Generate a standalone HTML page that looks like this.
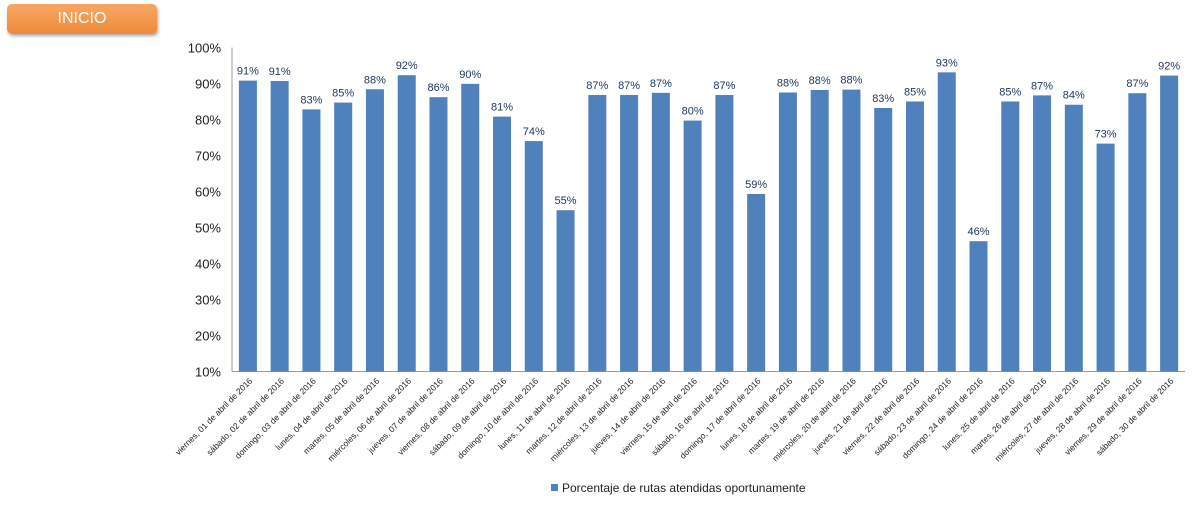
<!DOCTYPE html>
<html><head><meta charset="utf-8"><style>
body{margin:0;background:#fff;width:1200px;height:508px;overflow:hidden;font-family:"Liberation Sans",sans-serif}
#btn{position:absolute;left:7px;top:4px;width:150px;height:30px;border-radius:5px;background:linear-gradient(#f7a764,#ef8a3a);box-shadow:1px 2px 3px rgba(0,0,0,.35);color:#fff;font-size:16px;text-align:center;line-height:30px}
</style></head><body>
<div id="btn">INICIO</div>
<svg id="chart" width="1200" height="508" style="position:absolute;left:0;top:0"></svg>
<script>
const labels=["viernes, 01 de abril de 2016","sábado, 02 de abril de 2016","domingo, 03 de abril de 2016","lunes, 04 de abril de 2016","martes, 05 de abril de 2016","miércoles, 06 de abril de 2016","jueves, 07 de abril de 2016","viernes, 08 de abril de 2016","sábado, 09 de abril de 2016","domingo, 10 de abril de 2016","lunes, 11 de abril de 2016","martes, 12 de abril de 2016","miércoles, 13 de abril de 2016","jueves, 14 de abril de 2016","viernes, 15 de abril de 2016","sábado, 16 de abril de 2016","domingo, 17 de abril de 2016","lunes, 18 de abril de 2016","martes, 19 de abril de 2016","miércoles, 20 de abril de 2016","jueves, 21 de abril de 2016","viernes, 22 de abril de 2016","sábado, 23 de abril de 2016","domingo, 24 de abril de 2016","lunes, 25 de abril de 2016","martes, 26 de abril de 2016","miércoles, 27 de abril de 2016","jueves, 28 de abril de 2016","viernes, 29 de abril de 2016","sábado, 30 de abril de 2016"];
const values=[90.8,90.7,82.8,84.7,88.4,92.3,86.2,89.9,80.8,74,54.8,86.8,86.8,87.4,79.7,86.8,59.3,87.5,88.2,88.3,83.2,85,93.1,46.2,85,86.7,84.1,73.3,87.3,92.2];
const yTicks=[10,20,30,40,50,60,70,80,90,100];
const svg=document.getElementById('chart');const NS='http://www.w3.org/2000/svg';
const X0=232,X1=1185,Y0=371.5,Y1=47.5;
const y=v=>Y0-(v-10)/90*(Y0-Y1);
const bw=(X1-X0)/labels.length;
const xc=i=>X0+bw*(i+0.5);
function mk(t,a,txt){const e=document.createElementNS(NS,t);for(const k in a)e.setAttribute(k,a[k]);if(txt!=null)e.textContent=txt;svg.appendChild(e);return e;}
yTicks.forEach(t=>{const e=mk('text',{x:221,y:y(t)+5,'text-anchor':'end','font-size':13,fill:'#222'},t+'%');

});
let ax=mk('line',{x1:X0,y1:Y1,x2:X0,y2:Y0,stroke:'#999'});


let bx=mk('line',{x1:X0,y1:Y0,x2:X1,y2:Y0,stroke:'#999'});


values.forEach((v,i)=>{
const r=mk('rect',{x:xc(i)-9,y:y(v),width:18,height:Y0-y(v),fill:'#4f81bd'});


const t=mk('text',{x:xc(i),y:y(v)-6,'text-anchor':'middle','font-size':11,fill:'#1f3864'},Math.round(v)+'%');


const l=mk('text',{x:0,y:0,'text-anchor':'end','font-size':8.5,fill:'#222',transform:`translate(${xc(i)+5},${Y0+10}) rotate(-45)`},labels[i]);


});
const ls=mk('rect',{x:551,y:484,width:7,height:7,fill:'#4f81bd'});


const lt=mk('text',{x:562,y:492,'font-size':12,fill:'#222'},'Porcentaje de rutas atendidas oportunamente');


</script>
</body></html>
